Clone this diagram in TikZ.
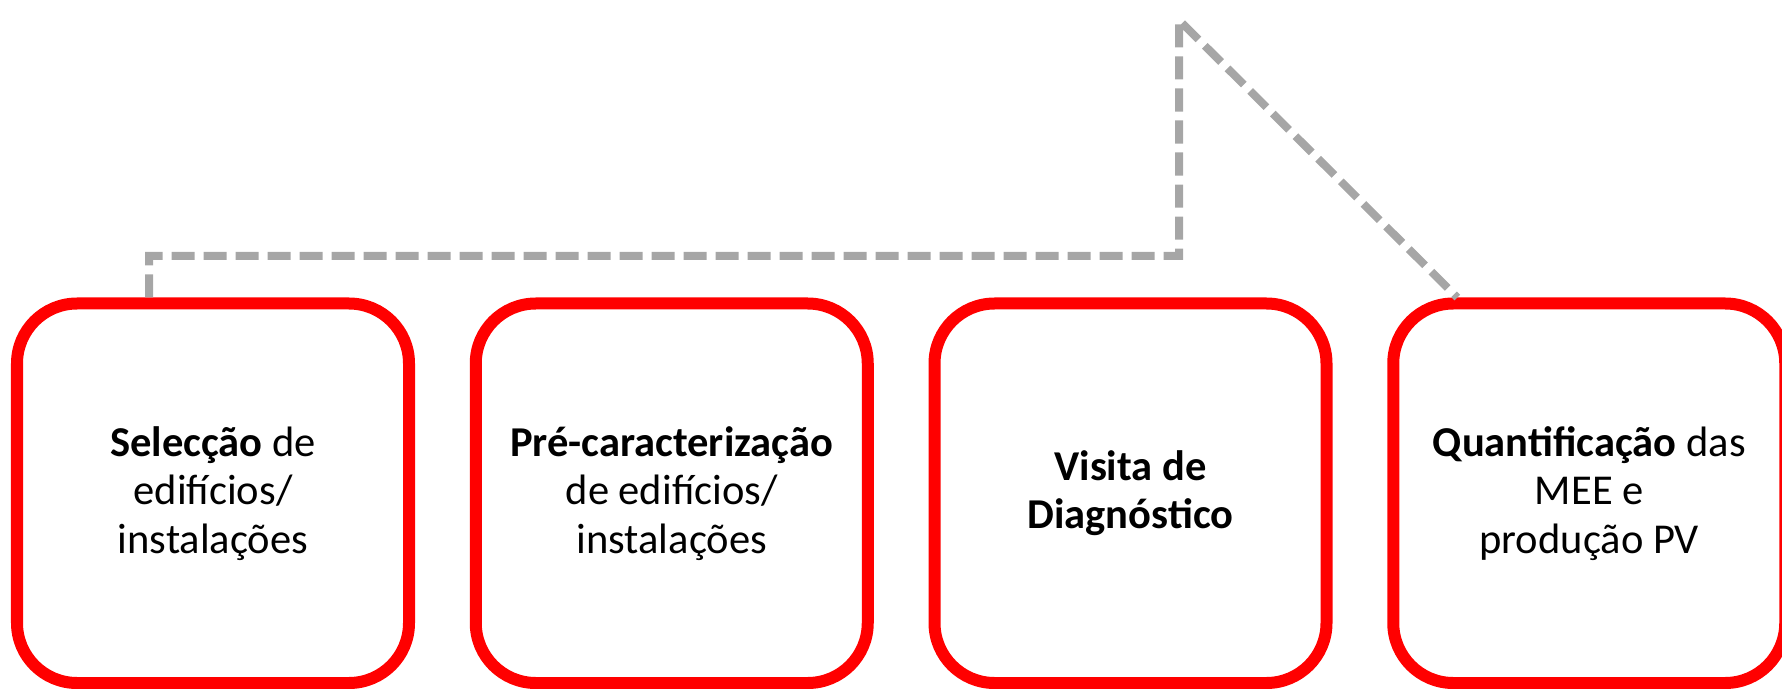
\documentclass[tikz,border=0pt]{standalone}
\usepackage{fontspec}
\setmainfont{Carlito}
\usetikzlibrary{positioning}
\definecolor{boxred}{HTML}{FF0000}
\definecolor{linkgray}{HTML}{A6A6A6}
\tikzset{
  stepbox/.style={draw=boxred,line width=0.24cm,rounded corners=1.2cm,
    minimum width=7.84cm,minimum height=7.59cm,align=center,
    font=\fontsize{24.2}{27.6}\selectfont},
  link/.style={draw=linkgray,line width=0.16cm,dash pattern=on 0.46cm off 0.18cm}
}
\begin{document}
\begin{tikzpicture}
\useasboundingbox (0,0) rectangle (35.64,13.76);
\node[stepbox] (s1) at (4.26,3.895) {\textbf{Selecção} de\\edifícios/\\instalações};
\node[stepbox,right=1.095cm of s1] (s2) {\textbf{Pré-caracterização}\\de edifícios/\\instalações};
\node[stepbox,right=1.095cm of s2] (s3) {\textbf{Visita de}\\\textbf{Diagnóstico}};
\node[stepbox,right=1.095cm of s3] (s4) {\textbf{Quantificação} das\\MEE e\\produção PV};
\coordinate[left=1.28cm of s1.north] (start);
\coordinate[left=2.64cm of s4.north] (end);
\coordinate (top) at (23.58,13.36);
\draw[link] (start) |- (top |- 0,8.64) -- (top) -- (end);
\end{tikzpicture}
\end{document}
